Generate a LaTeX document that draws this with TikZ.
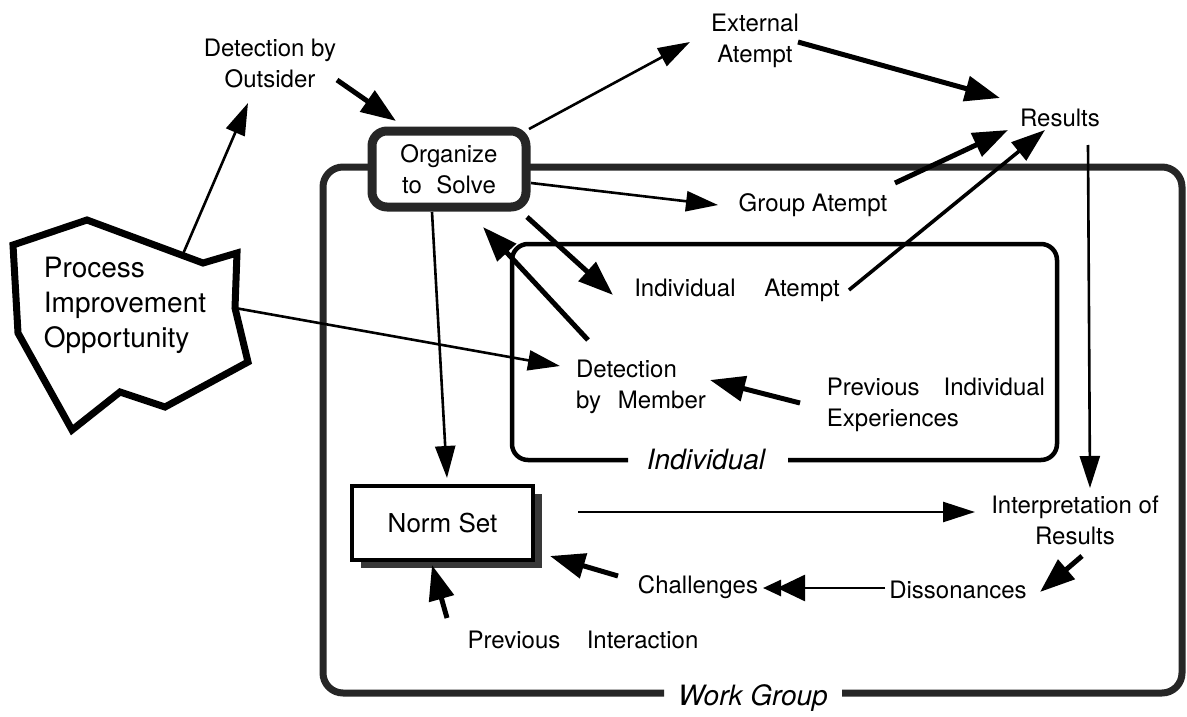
\documentclass[tikz,border=0pt]{standalone}
\usepackage{fontspec}
\setmainfont{TeX Gyre Heros}
\usetikzlibrary{arrows.meta,shadows}
\begin{document}
\begin{tikzpicture}[x=1pt,y=-1pt,
  lbl/.style={font=\fontsize{24}{31}\selectfont, align=center, inner sep=2pt},
  biglbl/.style={font=\fontsize{28}{35}\selectfont, align=left, inner sep=2pt},
  framelbl/.style={font=\fontsize{28}{32}\selectfont\itshape, inner sep=0pt},
  stipple/.style={draw=black!85},
  orgbox/.style={lbl, stipple, line width=9pt, fill=white, rounded corners=15pt,
    minimum width=154pt, minimum height=76pt},
  normbox/.style={lbl, font=\fontsize{26}{31}\selectfont, draw, line width=4pt, fill=white,
    minimum width=181pt, minimum height=74pt,
    drop shadow={shadow xshift=9pt, shadow yshift=-8pt, fill=black!78, opacity=1}},
  thinarr/.style={line width=2.6pt, -{Triangle[length=32pt,width=20pt]}},
  medarr/.style={line width=3.6pt, -{Triangle[length=34pt,width=23pt]}},
  thickarr/.style={line width=5pt, -{Triangle[length=35pt,width=25pt]}},
  notcharr/.style={line width=2.6pt, -{Triangle[length=18pt,width=16pt]},
    postaction={draw, shorten >=14pt, -{Triangle[length=28pt,width=26pt]}}}
]
% canvas
\fill[white] (0,0) rectangle (1187,717);
\useasboundingbox (0,0) rectangle (1187,717);

% Work Group frame (open where its label sits)
\draw[stipple, line width=7pt, rounded corners=20pt]
  (842,693) -- (1182,693) -- (1182,167) -- (323,167) -- (323,693) -- (664,693);
\node[framelbl] (wglbl) at (753,698) {Work Group};

% Individual frame (open where its label sits)
\draw[line width=4.5pt, rounded corners=16pt]
  (788,460) -- (1057,460) -- (1057,244) -- (512,244) -- (512,460) -- (628,460);
\node[framelbl] (indlbl) at (706,460) {Individual};

% opportunity shape
\draw[line width=7pt, line join=miter, fill=white]
  (13,245) -- (87,220) -- (203,263) -- (237,253) -- (235,308) -- (248,362)
  -- (165,407) -- (120,392) -- (72,430) -- (18,333) -- cycle;
\node[biglbl] (pio) at (125,305) {Process\\Improvement\\Opportunity};
\coordinate (pio-top) at (183,254);
\coordinate (pio-east) at (235,308);

% nodes
\node[lbl] (outs) at (270,63) {Detection by\\Outsider};
\node[orgbox] (org) at (449,169) {Organize\\to\hspace{0.6em}Solve};
\node[lbl] (ext) at (755,41) {External\\Atempt};
\node[lbl] (res) at (1060,118) {Results};
\node[lbl] (grp) at (813,205) {Group Atempt};
\node[lbl] (ind) at (737,290) {Individual\hspace{1.2em}Atempt};
\node[lbl, align=left] (detm) at (641,387) {Detection\\by\hspace{0.7em}Member};
\node[lbl, align=left] (prev) at (936,405) {Previous\hspace{1.0em}Individual\\Experiences};
\node[normbox] (norm) at (442.5,523) {Norm Set};
\node[lbl] (interp) at (1075,520) {Interpretation of\\Results};
\node[lbl] (diss) at (958,590) {Dissonances};
\node[lbl] (chal) at (698,587) {Challenges};
\node[lbl] (previnter) at (583,640) {Previous\hspace{1.1em}Interaction};

% connectors
\draw[thinarr] (pio-top) -- ([shift={(-22,40)}]outs.center);
\draw[thickarr] ([shift={(67,17)}]outs.center) -- ([shift={(-53,-48)}]org.center);
\draw[thinarr] ([shift={(80,-40)}]org.center) -- ([shift={(-65,1)}]ext.center);
\draw[thickarr] ([shift={(43,1)}]ext.center) -- ([shift={(-60,-20)}]res.center);
\draw[thinarr] ([shift={(82,14)}]org.center) -- ([shift={(-95,0)}]grp.center);
\draw[thickarr] ([shift={(82,-22)}]grp.center) -- ([shift={(-52,12)}]res.center);
\draw[medarr] ([shift={(112,0)}]ind.center) -- ([shift={(-15,12)}]res.center);
\draw[thickarr] ([shift={(78,48)}]org.center) -- ([shift={(-124,5)}]ind.center);
\draw[thickarr] ([shift={(-53,-47)}]detm.center) -- ([shift={(34,58)}]org.center);
\draw[thinarr] (pio-east) -- ([shift={(-81,-21)}]detm.center);
\draw[thickarr] ([shift={(-136,-2)}]prev.center) -- ([shift={(69,-7)}]detm.center);
\draw[thinarr] ([shift={(-17,43)}]org.center) -- ([shift={(4.5,-45)}]norm.center);
\draw[thinarr] ([shift={(28,27)}]res.center) -- ([shift={(15,-32)}]interp.center);
\draw[thinarr] ([shift={(135.5,-11)}]norm.center) -- ([shift={(-100,-8)}]interp.center);
\draw[thickarr] ([shift={(7,36)}]interp.center) -- ([shift={(82,2)}]diss.center);
\draw[notcharr] ([shift={(-73,-2)}]diss.center) -- ([shift={(65,1)}]chal.center);
\draw[thickarr] ([shift={(-80,-11)}]chal.center) -- ([shift={(107.5,33)}]norm.center);
\draw[thickarr] ([shift={(-136,-22)}]previnter.center) -- ([shift={(-10.5,42)}]norm.center);
\end{tikzpicture}
\end{document}
